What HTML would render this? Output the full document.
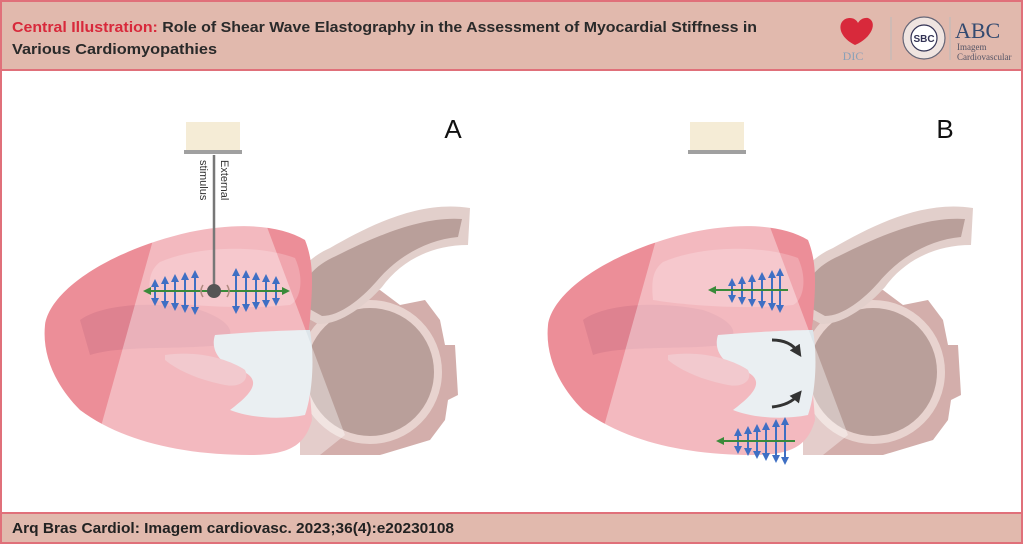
<!DOCTYPE html>
<html><head><meta charset="utf-8"><style>
html,body{margin:0;padding:0;background:#fff;}
svg{display:block;}
</style></head><body>
<svg width="1024" height="545" viewBox="0 0 1024 545" xmlns="http://www.w3.org/2000/svg">
<defs>
<marker id="bh" viewBox="0 0 10 10" refX="5" refY="5" markerWidth="4" markerHeight="4" orient="auto-start-reverse"><path d="M0,0 L10,5 L0,10 z" fill="#3f6fc4"/></marker>
<marker id="gh" viewBox="0 0 10 10" refX="5" refY="5" markerWidth="4" markerHeight="4" orient="auto-start-reverse"><path d="M0,0 L10,5 L0,10 z" fill="#3a8a3a"/></marker>
<marker id="kh" viewBox="0 0 10 10" refX="5" refY="5" markerWidth="4" markerHeight="4" orient="auto"><path d="M0,0 L10,5 L0,10 z" fill="#333"/></marker>
<g id="heart">
  <path d="M300,300 L380,290 L400,305 L425,300 L440,320 L445,345 L455,345 L458,395 L448,400 L445,420 L430,440 L380,455 L300,455 Z" fill="#d3aeab"/>
  <circle cx="370" cy="372" r="72" fill="#e8d3cf"/>
  <circle cx="370" cy="372" r="64" fill="#b99f9a"/>
  <path d="M296,312 C285,290 298,262 330,248 C370,225 420,200 470,208 L468,245 C430,245 400,262 382,287 C366,305 340,325 318,324 Z" fill="#e2cfcb"/>
  <path d="M304,306 C296,290 308,268 336,256 C372,238 420,216 462,219 L458,237 C425,240 396,258 376,282 C361,299 340,316 322,316 Z" fill="#b99f9a"/>
  <path d="M45,325 C50,290 110,250 190,232 C240,222 280,225 305,240 C315,265 312,290 310,320 C305,350 310,390 312,420 C305,445 290,455 250,455 C180,455 120,440 80,410 C55,385 42,355 45,325 Z" fill="#ec8e98"/>
  <path d="M80,320 C100,305 150,300 200,310 C230,320 240,335 220,345 C180,350 120,345 90,355 Z" fill="#de8290"/>
  <path d="M160,262 C200,245 260,245 295,258 C305,280 300,300 290,305 C240,310 180,305 150,300 C148,280 150,270 160,262 Z" fill="#f0a6ae"/>
  <path d="M215,335 C250,332 290,330 310,330 C315,360 312,395 305,415 C280,420 250,418 230,410 C250,395 265,380 240,370 C220,365 210,350 215,335 Z" fill="#dde5ea"/>
  <path d="M165,355 C200,350 230,360 245,370 C250,380 240,388 225,385 C200,380 180,372 165,360 Z" fill="#eaa9b0"/>
  <path d="M186,155 L240,155 L345,435 L320,455 L93,455 L153,240 Z" fill="#fff" opacity="0.38"/>
</g>
</defs>

<rect x="1" y="1" width="1021" height="69" fill="#e1b9ad" stroke="#e0707a" stroke-width="2"/>
<rect x="1" y="70" width="1021" height="443" fill="#fff" stroke="#e0707a" stroke-width="2"/>
<rect x="1" y="513" width="1021" height="30" fill="#e1b9ad" stroke="#e0707a" stroke-width="2"/>

<text x="12" y="32" font-family="Liberation Sans, sans-serif" font-size="15" font-weight="bold" textLength="745" lengthAdjust="spacingAndGlyphs"><tspan fill="#d8293b">Central Illustration:</tspan><tspan fill="#2a2a2a"> Role of Shear Wave Elastography in the Assessment of Myocardial Stiffness in</tspan></text>
<text x="12" y="54" font-family="Liberation Sans, sans-serif" font-size="15" font-weight="bold" fill="#2a2a2a" textLength="205" lengthAdjust="spacingAndGlyphs">Various Cardiomyopathies</text>

<path d="M855,45 C835,35 838,18 850,18 C856,18 858,23 858,23 C858,23 861,17 868,18 C878,22 872,38 855,45 Z" fill="#d8293b"/>
<text x="853" y="60" font-family="Liberation Serif, serif" font-size="12" fill="#8aa0b8" text-anchor="middle">DIC</text>
<line x1="891" y1="17" x2="891" y2="60" stroke="#bbb" stroke-width="1"/>
<circle cx="924" cy="38" r="21" fill="#efe4e0" stroke="#667" stroke-width="1.2"/>
<circle cx="924" cy="38" r="13" fill="#fff" stroke="#335" stroke-width="1.2"/>
<text x="924" y="42" font-family="Liberation Sans, sans-serif" font-size="10" font-weight="bold" fill="#335" text-anchor="middle">SBC</text>
<line x1="950" y1="17" x2="950" y2="60" stroke="#bbb" stroke-width="1"/>
<text x="955" y="38" font-family="Liberation Serif, serif" font-size="22" fill="#334a70">ABC</text>
<text x="957" y="50" font-family="Liberation Serif, serif" font-size="9" fill="#556">Imagem</text>
<text x="957" y="60" font-family="Liberation Serif, serif" font-size="9" fill="#556">Cardiovascular</text>

<use href="#heart"/>
<use href="#heart" transform="translate(503,0)"/>

<rect x="186" y="122" width="54" height="28" fill="#f5ecd6"/>
<rect x="184" y="150" width="58" height="4" fill="#a0a0a0"/>
<rect x="690" y="122" width="54" height="28" fill="#f5ecd6"/>
<rect x="688" y="150" width="58" height="4" fill="#a0a0a0"/>

<text x="453" y="138" font-family="Liberation Sans, sans-serif" font-size="26" fill="#111" text-anchor="middle">A</text>
<text x="945" y="138" font-family="Liberation Sans, sans-serif" font-size="26" fill="#111" text-anchor="middle">B</text>

<line x1="214" y1="155" x2="214" y2="291" stroke="#777" stroke-width="2.5"/>
<text transform="translate(221,160) rotate(90)" font-family="Liberation Sans, sans-serif" font-size="11" fill="#333">External</text>
<text transform="translate(200,160) rotate(90)" font-family="Liberation Sans, sans-serif" font-size="11" fill="#333">stimulus</text>
<g stroke="#3f6fc4" stroke-width="2" marker-start="url(#bh)" marker-end="url(#bh)">
<line x1="155" y1="283" x2="155" y2="302"/><line x1="165" y1="280" x2="165" y2="305"/><line x1="175" y1="278" x2="175" y2="307"/><line x1="185" y1="276" x2="185" y2="309"/><line x1="195" y1="274" x2="195" y2="311"/>
<line x1="236" y1="272" x2="236" y2="310"/><line x1="246" y1="274" x2="246" y2="308"/><line x1="256" y1="276" x2="256" y2="306"/><line x1="266" y1="278" x2="266" y2="304"/><line x1="276" y1="280" x2="276" y2="302"/>
</g>
<line x1="147" y1="291" x2="286" y2="291" stroke="#3a8a3a" stroke-width="2" marker-start="url(#gh)" marker-end="url(#gh)"/>
<path d="M203,285 Q199,291 203,297 M227,285 Q231,291 227,297" stroke="#b08a80" stroke-width="1.5" fill="none"/>
<circle cx="214" cy="291" r="7" fill="#555"/>

<g stroke="#3f6fc4" stroke-width="2" marker-start="url(#bh)" marker-end="url(#bh)">
<line x1="732" y1="282" x2="732" y2="299"/><line x1="742" y1="280" x2="742" y2="301"/><line x1="752" y1="278" x2="752" y2="303"/><line x1="762" y1="276" x2="762" y2="305"/><line x1="772" y1="274" x2="772" y2="307"/><line x1="780" y1="272" x2="780" y2="309"/>
<line x1="738" y1="432" x2="738" y2="450"/><line x1="748" y1="430" x2="748" y2="452"/><line x1="757" y1="428" x2="757" y2="455"/><line x1="766" y1="426" x2="766" y2="457"/><line x1="776" y1="423" x2="776" y2="459"/><line x1="785" y1="421" x2="785" y2="461"/>
</g>
<line x1="788" y1="290" x2="712" y2="290" stroke="#3a8a3a" stroke-width="2" marker-end="url(#gh)"/>
<line x1="795" y1="441" x2="720" y2="441" stroke="#3a8a3a" stroke-width="2" marker-end="url(#gh)"/>
<path d="M772,340 Q790,340 798,352" stroke="#333" stroke-width="3" fill="none" marker-end="url(#kh)"/>
<path d="M772,407 Q790,405 798,395" stroke="#333" stroke-width="3" fill="none" marker-end="url(#kh)"/>

<text x="12" y="533" font-family="Liberation Sans, sans-serif" font-size="15" font-weight="bold" fill="#222" textLength="442" lengthAdjust="spacingAndGlyphs">Arq Bras Cardiol: Imagem cardiovasc. 2023;36(4):e20230108</text>
</svg>
</body></html>
